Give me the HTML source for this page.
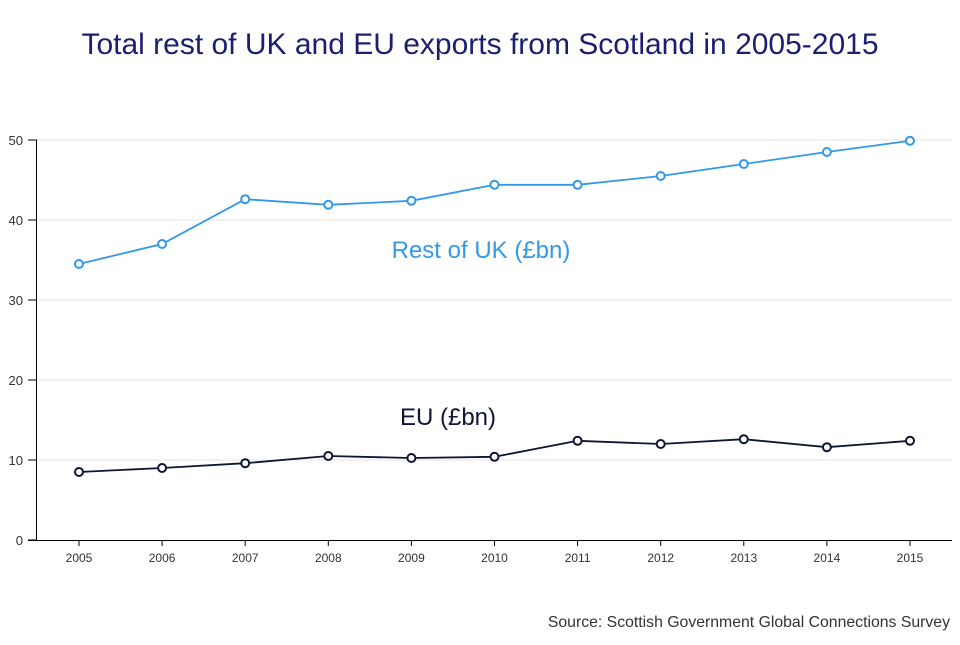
<!DOCTYPE html>
<html><head><meta charset="utf-8"><style>
body{margin:0;background:#fff;font-family:"Liberation Sans",sans-serif}
svg text{font-family:"Liberation Sans",sans-serif}
</style></head><body>
<svg width="960" height="640" xmlns="http://www.w3.org/2000/svg">
<text x="480" y="54" text-anchor="middle" font-size="30" fill="#1a1f6e">Total rest of UK and EU exports from Scotland in 2005-2015</text>
<g id="grid"></g><g id="axes"></g><g id="series"></g>
<text x="481" y="258" text-anchor="middle" font-size="24" fill="#3399e6">Rest of UK (£bn)</text>
<text x="448" y="425" text-anchor="middle" font-size="24" fill="#0f1535">EU (£bn)</text>
<text x="950" y="627" text-anchor="end" font-size="15.8" fill="#333">Source: Scottish Government Global Connections Survey</text>
</svg>
<script>
const years=[2005,2006,2007,2008,2009,2010,2011,2012,2013,2014,2015];
const restOfUK=[34.5,37,42.6,41.9,42.4,44.4,44.4,45.5,47,48.5,49.9];
const eu=[8.5,9,9.6,10.5,10.25,10.4,12.4,12,12.6,11.6,12.4];
const yTicks=[0,10,20,30,40,50];
const NS='http://www.w3.org/2000/svg';
const x=i=>79+i*(910-79)/(years.length-1);
const y=v=>540-v*8;
function mk(t,a,p){const e=document.createElementNS(NS,t);for(const k in a)e.setAttribute(k,a[k]);p.appendChild(e);return e;}
const grid=document.getElementById('grid'),axes=document.getElementById('axes'),ser=document.getElementById('series');
yTicks.forEach(v=>{
 if(v>0){const g=mk('line',{x1:37,x2:952,y1:y(v),y2:y(v),stroke:'#e3e3e3'},grid);
 
 }
 mk('line',{x1:28,x2:37,y1:y(v),y2:y(v),stroke:'#000'},axes);
 const t=mk('text',{x:23,y:y(v)+5,'text-anchor':'end','font-size':13,fill:'#333'},axes);t.textContent=v;
 
 
});
const ya=mk('line',{x1:36.5,x2:36.5,y1:140,y2:540,stroke:'#000'},axes);


const xa=mk('line',{x1:28,x2:952,y1:540.5,y2:540.5,stroke:'#000'},axes);


years.forEach((yr,i)=>{
 mk('line',{x1:x(i),x2:x(i),y1:540,y2:546,stroke:'#000'},axes);
 const t=mk('text',{x:x(i),y:562,'text-anchor':'middle','font-size':12,fill:'#333'},axes);t.textContent=yr;
 
 
});
function series(vals,color,name){
 const p=mk('polyline',{points:vals.map((v,i)=>x(i)+','+y(v)).join(' '),fill:'none',stroke:color,'stroke-width':1.8},ser);
 
 
 vals.forEach((v,i)=>{const c=mk('circle',{cx:x(i),cy:y(v),r:4,fill:'#fff',stroke:color,'stroke-width':2},ser);
 
 });
}
series(restOfUK,'#3399e6','rest-of-uk');
series(eu,'#0f1535','eu');
</script>
</body></html>
